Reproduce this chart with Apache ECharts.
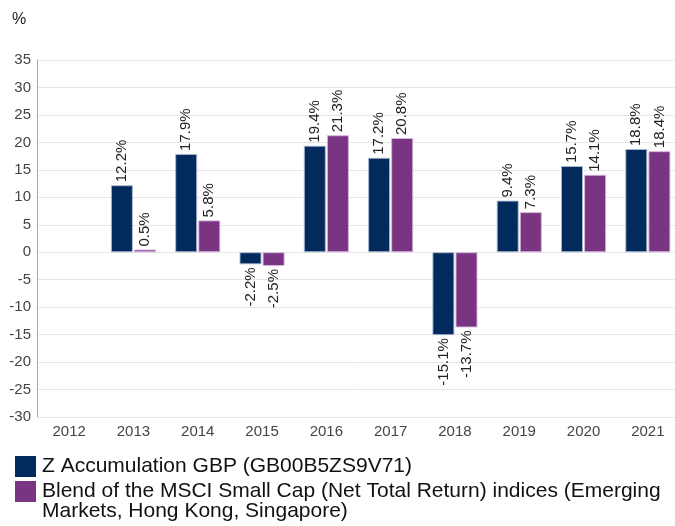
<!DOCTYPE html>
<html>
<head>
<meta charset="utf-8">
<script src="https://cdn.jsdelivr.net/npm/echarts@6/dist/echarts.min.js"></script>
<style>
html,body{margin:0;padding:0;background:#fff;}
#chart{width:675px;height:526px;}
</style>
</head>
<body>
<div id="chart"></div>
<script>
var categories = ['2012','2013','2014','2015','2016','2017','2018','2019','2020','2021'];
var fundName = 'Z Accumulation GBP (GB00B5ZS9V71)';
var indexName = 'Blend of the MSCI Small Cap (Net Total Return) indices (Emerging Markets, Hong Kong, Singapore)';
var fundValues = [null, 12.2, 17.9, -2.2, 19.4, 17.2, -15.1, 9.4, 15.7, 18.8];
var indexValues = [null, 0.5, 5.8, -2.5, 21.3, 20.8, -13.7, 7.3, 14.1, 18.4];
var yTicks = {min: -30, max: 35, interval: 5};

var NAVY = '#022a5c';
var PURPLE = '#7a3582';
var FONT = 'Liberation Sans, Arial, sans-serif';

function buildData(vals) {
  return vals.map(function (v) {
    if (v === null) return null;
    var neg = v < 0;
    return {
      value: v,
      label: neg
        ? {position: 'bottom', align: 'right'}
        : {position: 'top', align: 'left'}
    };
  });
}

var labelCommon = {
  show: true,
  rotate: 90,
  distance: 3,
  verticalAlign: 'middle',
  fontSize: 15,
  color: '#222',
  fontFamily: FONT,
  formatter: function (p) { return p.value.toFixed(1) + '%'; }
};

var chart = echarts.init(document.getElementById('chart'), null, {renderer: 'canvas'});
chart.setOption({
  animation: false,
  backgroundColor: '#fff',
  title: {
    text: '%', left: 7, top: 7,
    textStyle: {fontSize: 16, fontWeight: 'normal', color: '#222', fontFamily: FONT}
  },
  grid: {left: 37, width: 643, top: 60, bottom: 109, containLabel: false, outerBoundsMode: 'none'},
  legend: {
    orient: 'vertical',
    left: 15, top: 456,
    padding: 0,
    itemWidth: 21, itemHeight: 21, itemGap: 4,
    icon: 'rect',
    selectedMode: false,
    itemStyle: {borderWidth: 0},
    textStyle: {fontSize: 21, lineHeight: 21, color: '#111', fontFamily: FONT, padding: [0, 0, 0, 1]},
    formatter: function (name) {
      var i = name.indexOf(' Markets,');
      return i > 0 ? name.slice(0, i) : name;
    },
    data: [fundName, indexName]
  },
  graphic: [{
    type: 'text', left: 42, top: 501,
    style: {text: 'Markets, Hong Kong, Singapore)', fontSize: 21, lineHeight: 21, fill: '#111', fontFamily: FONT}
  }],
  xAxis: {
    type: 'category',
    data: categories,
    axisLine: {show: false, onZero: false},
    axisTick: {show: false},
    axisLabel: {fontSize: 15, color: '#444', margin: 7, fontFamily: FONT},
    splitLine: {show: false}
  },
  yAxis: {
    type: 'value',
    min: yTicks.min, max: yTicks.max, interval: yTicks.interval,
    axisLine: {show: true, lineStyle: {color: '#aaa'}},
    axisTick: {show: false},
    axisLabel: {fontSize: 15, color: '#444', margin: 6, fontFamily: FONT},
    splitLine: {lineStyle: {color: '#e6e6e6'}}
  },
  series: [{
    name: fundName,
    type: 'bar',
    data: buildData(fundValues),
    barWidth: 22,
    barGap: '5%',
    itemStyle: {color: NAVY, borderColor: 'rgba(170,185,210,0.9)', borderWidth: 1},
    label: labelCommon
  }, {
    name: indexName,
    type: 'bar',
    data: buildData(indexValues),
    barWidth: 22,
    itemStyle: {color: PURPLE, borderColor: 'rgba(215,180,220,0.9)', borderWidth: 1},
    label: labelCommon
  }]
});
</script>
</body>
</html>
